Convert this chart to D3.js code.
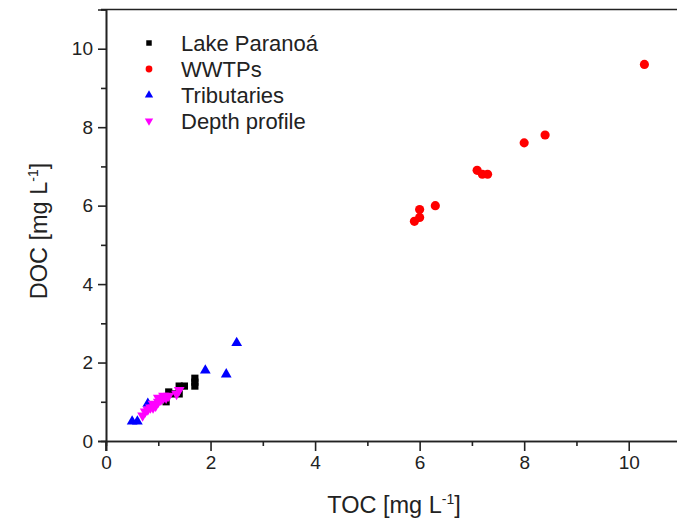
<!DOCTYPE html>
<html><head><meta charset="utf-8">
<script src="https://cdn.jsdelivr.net/npm/d3@7"></script>
<style>body{margin:0;background:#fff}svg{display:block}text{font-family:"Liberation Sans",Arial,sans-serif;fill:#222}</style>
</head><body><svg id="c" width="677" height="525"></svg>
<script>
const seriesNames = ["Lake Paranoá", "WWTPs", "Tributaries", "Depth profile"];
const lakeTOC = [1.7, 1.7, 1.7, 1.4, 1.5, 1.4, 1.2, 1.15, 1.3];
const lakeDOC = [1.6, 1.5, 1.4, 1.4, 1.4, 1.2, 1.25, 1.0, 1.2];
const wwtpTOC = [10.3, 8.4, 8.0, 7.1, 7.2, 7.3, 6.3, 6.0, 6.0, 5.9];
const wwtpDOC = [9.6, 7.8, 7.6, 6.9, 6.8, 6.8, 6.0, 5.9, 5.7, 5.6];
const tribTOC = [2.5, 1.9, 2.3, 0.5, 0.6, 0.8];
const tribDOC = [2.5, 1.8, 1.7, 0.5, 0.5, 0.95];
const depthTOC = [0.7, 0.75, 0.8, 0.85, 0.9, 0.9, 0.95, 1.0, 1.0, 1.05, 1.1, 1.1, 1.15, 1.2, 1.4, 1.35];
const depthDOC = [0.65, 0.75, 0.8, 0.85, 0.85, 0.95, 0.9, 1.0, 1.1, 1.05, 1.1, 1.15, 1.1, 1.15, 1.3, 1.2];
const majorTicks = [0, 2, 4, 6, 8, 10];
const minorTicks = [1, 3, 5, 7, 9, 11];
const colors = ["#000000", "#ff0000", "#0000ff", "#ff00ff"];

const svg = d3.select("#c");
const x = d3.scaleLinear().domain([0, 11]).range([106, 681]);
const y = d3.scaleLinear().domain([0, 11]).range([441, 9.5]);

// frame
svg.append("line").attr("x1", 101).attr("x2", 681).attr("y1", y(11)).attr("y2", y(11)).attr("stroke", "#222").attr("stroke-width", 1.6);

svg.append("g").attr("transform", `translate(0,${y(0)})`)
  .call(d3.axisBottom(x).tickValues(majorTicks).tickSize(10).tickPadding(5).tickFormat(d3.format("d")));
svg.append("g").attr("transform", `translate(0,${y(0)})`)
  .call(d3.axisBottom(x).tickValues(minorTicks).tickSize(5).tickFormat(""));
svg.append("g").attr("transform", `translate(${x(0)},0)`)
  .call(d3.axisLeft(y).tickValues(majorTicks).tickSize(8).tickPadding(5).tickFormat(d3.format("d")));
svg.append("g").attr("transform", `translate(${x(0)},0)`)
  .call(d3.axisLeft(y).tickValues(minorTicks.filter(v => v < 11)).tickSize(5).tickFormat(""));
svg.selectAll(".domain").attr("stroke", "#222").attr("stroke-width", 1.6);
svg.selectAll(".tick line").attr("stroke", "#222").attr("stroke-width", 1.6);
svg.selectAll(".tick text").attr("font-size", 19).attr("fill", "#333").style("font-family", "Liberation Sans, Arial, sans-serif");
svg.append("line").attr("x1", x(0)).attr("x2", x(0)).attr("y1", y(0)).attr("y2", y(0) + 10).attr("stroke", "#222").attr("stroke-width", 1.6);

// axis titles
const xt = svg.append("text").attr("x", 394).attr("y", 513).attr("text-anchor", "middle").attr("font-size", 23.5).attr("fill", "#333");
xt.append("tspan").text("TOC [mg L");
xt.append("tspan").attr("dy", -9).attr("font-size", 14).text("-1");
xt.append("tspan").attr("dy", 9).text("]");
const yt = svg.append("text").attr("transform", "translate(47,231) rotate(-90)").attr("text-anchor", "middle").attr("font-size", 23.5).attr("fill", "#333");
yt.append("tspan").text("DOC [mg L");
yt.append("tspan").attr("dy", -9).attr("font-size", 14).text("-1");
yt.append("tspan").attr("dy", 9).text("]");

const sym = [d3.symbolSquare, d3.symbolCircle, d3.symbolTriangle, d3.symbolTriangle];
const sizes = [52, 66, 50, 50];
const rot = [0, 0, 0, 180];
const data = [
  d3.zip(lakeTOC, lakeDOC), d3.zip(wwtpTOC, wwtpDOC), d3.zip(tribTOC, tribDOC), d3.zip(depthTOC, depthDOC)
];
data.forEach((pts, i) => {
  svg.append("g").selectAll("path").data(pts).join("path")
    .attr("d", d3.symbol(sym[i], sizes[i]))
    .attr("transform", d => `translate(${x(d[0])},${y(d[1])}) rotate(${rot[i]})`)
    .attr("fill", colors[i]);
});

// legend
const lg = svg.append("g");
seriesNames.forEach((n, i) => {
  const cy = 43 + i * 26;
  lg.append("path").attr("d", d3.symbol(sym[i], [30, 36, 30, 30][i]))
    .attr("transform", `translate(149,${cy}) rotate(${rot[i]})`).attr("fill", colors[i]);
  lg.append("text").attr("x", 181).attr("y", cy + 7.5).attr("font-size", 22).attr("fill", "#222").text(n);
});
</script></body></html>
